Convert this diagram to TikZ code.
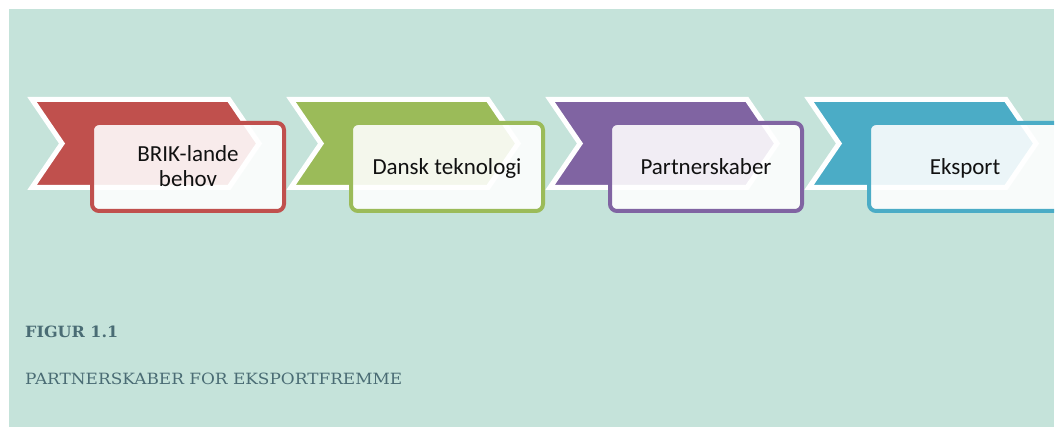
\documentclass[tikz,border=0pt]{standalone}
\usepackage{fontspec}
\usepackage{graphicx}
\newfontfamily\boxfont{Carlito}
\newfontfamily\capfont{DejaVu Serif}
\definecolor{panelbg}{RGB}{197,227,218}
\definecolor{capcol}{RGB}{74,108,116}
\definecolor{cred}{RGB}{192,80,77}
\definecolor{cgreen}{RGB}{155,187,89}
\definecolor{cpurple}{RGB}{128,100,162}
\definecolor{ccyan}{RGB}{75,172,198}
\definecolor{boxtext}{RGB}{17,17,17}
\tikzset{
  chevshape/.style={draw=white, line width=5pt, line join=miter, fill=#1},
  stepcard/.style={draw=#1, line width=4pt, rounded corners=7pt, fill=white, fill opacity=0.89},
  steplabel/.style={font=\boxfont\fontsize{23}{25}\selectfont, text=boxtext, align=center, inner sep=0pt},
  captext/.style={font=\capfont, text=capcol, inner sep=0pt, anchor=base west}
}
\begin{document}
\begin{tikzpicture}[x=1pt,y=-1pt]
\useasboundingbox (0,0) rectangle (1055,427);
\fill[panelbg] (9,9) rectangle (1054,427);
\begin{scope}
\clip (9,9) rectangle (1054,427);
\foreach \i/\col in {0/cred,1/cgreen,2/cpurple,3/ccyan}{
  \pgfmathsetmacro{\xo}{259*\i}
  \begin{scope}[xshift=\xo]
    \draw[chevshape=\col] (32,99.5) -- (229,99.5) -- (259,143.5) -- (229,187.5) -- (32,187.5) -- (62,143.5) -- cycle;
  \end{scope}
}
\foreach \i/\col in {0/cred,1/cgreen,2/cpurple,3/ccyan}{
  \pgfmathsetmacro{\xo}{259*\i}
  \begin{scope}[xshift=\xo]
    \draw[stepcard=\col] (92,123) rectangle (284,211);
  \end{scope}
}
\end{scope}
\node[steplabel] (s1) at (188,166) {BRIK-lande\\behov};
\node[steplabel, anchor=base] (s2) at (447,175) {Dansk teknologi};
\node[steplabel, anchor=base] (s3) at (706,175) {Partnerskaber};
\node[steplabel, anchor=base] (s4) at (965,175) {Eksport};
\node[captext] (fig) at (25,337.5) {\resizebox{93pt}{11.5pt}{\bfseries FIGUR 1.1}};
\node[captext] (title) at (25,385) {\resizebox{377pt}{11.5pt}{PARTNERSKABER FOR EKSPORTFREMME}};
\end{tikzpicture}
\end{document}
